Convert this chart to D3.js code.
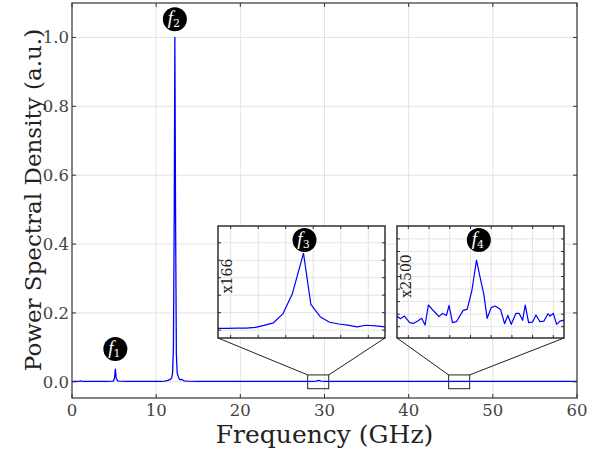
<!DOCTYPE html>
<html>
<head>
<meta charset="utf-8">
<script src="https://cdn.jsdelivr.net/npm/d3@7"></script>
<style>
  body { margin: 0; background: #fff; }
  text { font-family: "DejaVu Serif", serif; }
</style>
</head>
<body>
<script>
// main spectrum (GHz, a.u.)
const freq = [0, 0.6, 0.9, 1.0, 1.1, 1.4, 2.5, 4.0, 4.9, 5.05, 5.15, 5.25, 5.4, 5.6, 6.5, 9.0, 10.5,
  11.0, 11.4, 11.7, 11.85, 11.95, 12.05, 12.15, 12.22, 12.3, 12.4, 12.5, 12.7, 12.85, 13.0, 13.1, 13.3, 13.7,
  15, 20, 27, 28.6, 29.0, 29.3, 29.6, 30.2, 35, 40, 45, 46.0, 46.3, 47, 52, 57, 60];
const psd = [0.001, 0.001, 0.002, 0.003, 0.002, 0.001, 0.001, 0.001, 0.002, 0.01, 0.037, 0.012, 0.003, 0.002, 0.001, 0.001, 0.001,
  0.002, 0.004, 0.007, 0.012, 0.025, 0.1, 0.5, 1.0, 0.5, 0.08, 0.025, 0.01, 0.006, 0.007, 0.006, 0.003, 0.002,
  0.001, 0.001, 0.001, 0.001, 0.002, 0.004, 0.002, 0.001, 0.001, 0.001, 0.001, 0.001, 0.0012, 0.001, 0.001, 0.001, 0.001];

// zoomed insets
const inset1Freq = [28.00, 28.14, 28.28, 28.42, 28.56, 28.69, 28.83, 28.97, 29.11, 29.28, 29.39, 29.53, 29.67,
  29.81, 29.94, 30.08, 30.22, 30.36, 30.50];
const inset1Val = [0.10, 0.10, 0.11, 0.12, 0.16, 0.27, 0.42, 0.93, 2.05, 4.40, 1.47, 0.77, 0.45,
  0.35, 0.29, 0.19, 0.28, 0.24, 0.19];

const inset2Freq = [44.75, 44.80, 44.86, 44.94, 45.00, 45.06, 45.12, 45.17, 45.22, 45.30, 45.38, 45.43, 45.49,
  45.53, 45.58, 45.64, 45.74, 45.80, 45.87, 45.94, 45.99, 46.05, 46.10, 46.16, 46.22, 46.30, 46.36, 46.41,
  46.46, 46.53, 46.58, 46.63, 46.67, 46.72, 46.78, 46.83, 46.89, 46.95, 47.01, 47.04, 47.09, 47.14, 47.19, 47.25];
const inset2Val = [0.85, 0.64, 0.85, 0.32, 0.27, 0.45, 0.67, 0.13, 1.73, 1.25, 0.80, 1.06, 0.90,
  1.70, 0.32, 0.40, 1.30, 1.38, 2.85, 5.31, 4.04, 2.58, 0.67, 1.52, 1.65, 1.38, 0.24, 0.90,
  0.19, 1.06, 1.06, 0.51, 1.73, 0.32, 0.37, 0.93, 0.40, 0.45, 1.04, 0.85, 1.06, 0.19, 0.45, 0.53];

const xTicks = [0, 10, 20, 30, 40, 50, 60];
const yTicks = [0.0, 0.2, 0.4, 0.6, 0.8, 1.0];

const peaks = [
  {name: 'f', sub: '1', f: 5.15, y: 0.095},
  {name: 'f', sub: '2', f: 12.22, y: 1.053}
];

const insets = [
  {freq: inset1Freq, val: inset1Val, xdom: [28, 30.5], ydom: [-0.45, 5.96], ybox: [-0.02, 0.02],
   gridX: d3.range(28.19, 30.5, 0.412), gridY: d3.range(0, 6), label: 'x166', sub: '3', peak: 29.28,
   left: 218, top: 226},
  {freq: inset2Freq, val: inset2Val, xdom: [44.75, 47.25], ydom: [-0.9, 8.03], ybox: [-0.02, 0.02],
   gridX: d3.range(44.92, 47.25, 0.31), gridY: d3.range(0, 8), label: 'x2500', sub: '4', peak: 45.96,
   left: 397, top: 226}
];

const W = 605, H = 451;
const m = {left: 72, right: 28, top: 3, bottom: 53};
const insetW = 167, insetH = 112;

const svg = d3.select('body').append('svg')
  .attr('width', W).attr('height', H);

const x = d3.scaleLinear().domain([0, 60]).range([m.left, W - m.right]);
const y = d3.scaleLinear().domain([-0.047, 1.1]).range([H - m.bottom, m.top]);

const gridCol = '#e3e3e3', spineCol = '#333';

// grid
svg.append('g').selectAll('line').data(xTicks.slice(1, -1)).enter().append('line')
  .attr('x1', d => x(d)).attr('x2', d => x(d))
  .attr('y1', y.range()[1]).attr('y2', y.range()[0])
  .attr('stroke', gridCol).attr('stroke-width', 1);
svg.append('g').selectAll('line').data(yTicks).enter().append('line')
  .attr('x1', x.range()[0]).attr('x2', x.range()[1])
  .attr('y1', d => y(d)).attr('y2', d => y(d))
  .attr('stroke', gridCol).attr('stroke-width', 1);

// spectrum line
const line = d3.line().x((d, i) => x(freq[i])).y(d => y(d));
svg.append('path').datum(psd)
  .attr('d', line)
  .attr('fill', 'none').attr('stroke', '#0000ff').attr('stroke-width', 1.3)
  .attr('stroke-linejoin', 'round');

// axes with inward ticks
const tickLen = 4;
function axisAll(g, xs, ys, xt, yt, len, labels) {
  const [x0, x1] = xs.range();
  const [y0, y1] = ys.range();
  g.selectAll('.tb').data(xt).enter().append('line')
    .attr('x1', d => xs(d)).attr('x2', d => xs(d))
    .attr('y1', y0).attr('y2', y0 - len).attr('stroke', spineCol);
  g.selectAll('.tt').data(xt).enter().append('line')
    .attr('x1', d => xs(d)).attr('x2', d => xs(d))
    .attr('y1', y1).attr('y2', y1 + len).attr('stroke', spineCol);
  g.selectAll('.tl').data(yt).enter().append('line')
    .attr('y1', d => ys(d)).attr('y2', d => ys(d))
    .attr('x1', x0).attr('x2', x0 + len).attr('stroke', spineCol);
  g.selectAll('.tr').data(yt).enter().append('line')
    .attr('y1', d => ys(d)).attr('y2', d => ys(d))
    .attr('x1', x1).attr('x2', x1 - len).attr('stroke', spineCol);
}

const axG = svg.append('g');
axisAll(axG, x, y, xTicks, yTicks, tickLen);
axG.append('rect')
  .attr('x', x.range()[0]).attr('y', y.range()[1])
  .attr('width', x.range()[1] - x.range()[0]).attr('height', y.range()[0] - y.range()[1])
  .attr('fill', 'none').attr('stroke', spineCol).attr('stroke-width', 1.2);

// tick labels
svg.append('g').selectAll('text').data(xTicks).enter().append('text')
  .attr('x', d => x(d)).attr('y', y.range()[0] + 18)
  .attr('text-anchor', 'middle').attr('font-size', 16.5).attr('fill', '#444')
  .text(d => d);
svg.append('g').selectAll('text').data(yTicks).enter().append('text')
  .attr('x', x.range()[0] - 3).attr('y', d => y(d) + 6)
  .attr('text-anchor', 'end').attr('font-size', 16.5).attr('fill', '#444')
  .text(d => d3.format('.1f')(d));

// axis titles
svg.append('text')
  .attr('x', (x.range()[0] + x.range()[1]) / 2).attr('y', 443)
  .attr('text-anchor', 'middle').attr('font-size', 25).attr('fill', '#222')
  .text('Frequency (GHz)');
svg.append('text')
  .attr('transform', 'translate(41,200) rotate(-90)')
  .attr('text-anchor', 'middle').attr('font-size', 23).attr('fill', '#222')
  .text('Power Spectral Density (a.u.)');

// peak badge
function badge(g, cx, cy, sub) {
  g.append('circle').attr('cx', cx).attr('cy', cy).attr('r', 12).attr('fill', '#000');
  const t = g.append('text').attr('x', cx - 1).attr('y', cy + 5)
    .attr('text-anchor', 'middle').attr('fill', '#fff');
  t.append('tspan').attr('font-size', 19).attr('font-style', 'italic')
    .attr('font-family', 'Liberation Serif, serif').text('f');
  t.append('tspan').attr('font-size', 11).attr('dy', 3).text(sub);
}

peaks.forEach(p => badge(svg, x(p.f), y(p.y), p.sub));

// insets
insets.forEach(ins => {
  const g = svg.append('g');
  const ix = d3.scaleLinear().domain(ins.xdom).range([ins.left, ins.left + insetW]);
  const iy = d3.scaleLinear().domain(ins.ydom).range([ins.top + insetH, ins.top]);

  // zoom box on main axes + connectors
  const bx0 = x(ins.xdom[0]), bx1 = x(ins.xdom[1]);
  const by0 = y(ins.ybox[1]), by1 = y(ins.ybox[0]);
  g.append('rect').attr('x', bx0).attr('y', by0).attr('width', bx1 - bx0).attr('height', by1 - by0)
    .attr('fill', 'none').attr('stroke', '#222').attr('stroke-width', 1);
  g.append('line').attr('x1', ins.left).attr('y1', ins.top + insetH).attr('x2', bx0).attr('y2', by0)
    .attr('stroke', '#222').attr('stroke-width', 1);
  g.append('line').attr('x1', ins.left + insetW).attr('y1', ins.top + insetH).attr('x2', bx1).attr('y2', by0)
    .attr('stroke', '#222').attr('stroke-width', 1);

  g.append('rect').attr('x', ins.left).attr('y', ins.top).attr('width', insetW).attr('height', insetH)
    .attr('fill', '#fff');

  g.append('g').selectAll('line').data(ins.gridX).enter().append('line')
    .attr('x1', d => ix(d)).attr('x2', d => ix(d))
    .attr('y1', ins.top).attr('y2', ins.top + insetH)
    .attr('stroke', gridCol);
  g.append('g').selectAll('line').data(ins.gridY).enter().append('line')
    .attr('y1', d => iy(d)).attr('y2', d => iy(d))
    .attr('x1', ins.left).attr('x2', ins.left + insetW)
    .attr('stroke', gridCol);

  const iline = d3.line().x((d, i) => ix(ins.freq[i])).y(d => iy(d));
  g.append('path').datum(ins.val)
    .attr('d', iline)
    .attr('fill', 'none').attr('stroke', '#0000ff').attr('stroke-width', 1.2)
    .attr('stroke-linejoin', 'round');

  axisAll(g, ix, iy, ins.gridX, ins.gridY, 3);
  g.append('rect').attr('x', ins.left).attr('y', ins.top).attr('width', insetW).attr('height', insetH)
    .attr('fill', 'none').attr('stroke', '#222').attr('stroke-width', 1.4);

  g.append('text')
    .attr('transform', `translate(${ins.left + 14},${ins.top + 50}) rotate(-90)`)
    .attr('text-anchor', 'middle').attr('font-size', 14).attr('fill', '#222')
    .text(ins.label);

  badge(g, ix(ins.peak) + 1, ins.top + 14, ins.sub);
});
</script>
</body>
</html>
